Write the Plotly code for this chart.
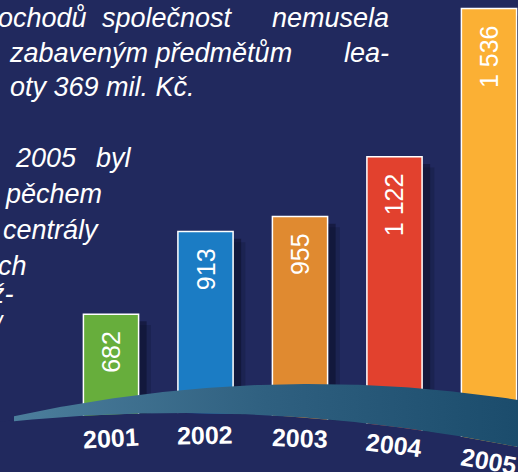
import numpy as np
import plotly.graph_objects as go

# data
years = ["2001", "2002", "2003", "2004", "2005"]
values = [682, 913, 955, 1122, 1536]
bar_colors = ["#67AE3C", "#1B7CC4", "#E08A30", "#E2412E", "#FBB034"]
year_angles = [-3, -1, 2, 7, 10]
year_label_y = [438, 435, 438, 445, 461]

# paragraph fragments (text, x px, baseline px, anchor)
para_text = [
    ("ochodů", -4, 27, "left"), ("společnost", 100, 27, "left"), ("nemusela", 391, 27, "right"),
    ("zabaveným předmětům", 7, 62, "left"), ("lea-", 391, 62, "right"),
    ("oty 369 mil. Kč.", 197, 96, "right"),
    ("2005", 13, 167, "left"), ("byl", 94, 167, "left"),
    ("pěchem", 104, 203, "right"), ("centrály", 101, 239, "right"),
    ("ch", 29, 275, "right"), ("ž-", 16, 303, "right"), ("/", 6, 335, "right"),
]

W, H = 518, 472
BG = "#21295E"
BAR_W = 0.584
X_RANGE = [-1.1746, 4.3069]

fig = go.Figure()

# soft drop shadows right of the bars
for dx, dy, alpha in ((0.13, 30, 0.22), (0.085, 20, 0.45)):
    fig.add_trace(go.Bar(
        x=years, y=[v - dy for v in values], width=BAR_W, offset=-BAR_W / 2 + dx,
        marker=dict(color=f"rgba(8,12,36,{alpha})", line=dict(width=0)),
        hoverinfo="skip",
    ))

fig.add_trace(go.Bar(
    x=years, y=values, width=BAR_W, offset=-BAR_W / 2,
    marker=dict(color=bar_colors, line=dict(color="white", width=1.5)),
    texttemplate="%{y:,}\u00a0\u00a0", textposition="inside", insidetextanchor="end",
    textangle=-90, insidetextfont=dict(family="Liberation Sans", size=25, color="white"),
    hoverinfo="skip",
))

# curved band across the bar bases (pixel coordinates on overlay axes)
xs = np.linspace(14, W, 140)
upper = 384 + 3.68e-4 * (xs - 310) ** 2
lower = 413 + 2.98e-4 * (xs - 180) ** 2

fig.add_trace(go.Scatter(
    x=np.concatenate([[0], xs, [W, W, 0]]),
    y=np.concatenate([[lower[0]], lower, [H + 2, H + 2, H + 2]]),
    xaxis="x2", yaxis="y2", mode="lines", line=dict(width=0),
    fill="toself", fillcolor=BG, hoverinfo="skip",
))
fig.add_trace(go.Scatter(
    x=np.concatenate([xs, xs[::-1]]), y=np.concatenate([upper, lower[::-1]]),
    xaxis="x2", yaxis="y2", mode="lines", line=dict(width=0), fill="toself",
    fillgradient=dict(type="horizontal", colorscale=[[0, "#4C7E9C"], [0.5, "#2F6080"], [1, "#1B4C6C"]]),
    hoverinfo="skip",
))

# year labels under the band, placed at each category's centre
span = X_RANGE[1] - X_RANGE[0]
for i, (yr, ang, yy) in enumerate(zip(years, year_angles, year_label_y)):
    fig.add_annotation(x=(i - X_RANGE[0]) / span, y=1 - yy / H, xref="paper", yref="paper",
                       text=yr, showarrow=False, textangle=ang, xanchor="center", yanchor="middle",
                       font=dict(family="Liberation Sans", size=25, color="white", weight="bold"))

for txt, x, base, anchor in para_text:
    fig.add_annotation(x=x / W, y=1 - (base - 9) / H, xref="paper", yref="paper", text=txt,
                       showarrow=False, xanchor=anchor, yanchor="middle",
                       font=dict(family="Liberation Sans", size=27, color="white", style="italic"))

fig.update_layout(
    width=W, height=H, margin=dict(l=0, r=0, t=0, b=0),
    paper_bgcolor=BG, plot_bgcolor=BG, showlegend=False,
    barmode="overlay", separators=", ",
    xaxis=dict(type="category", range=X_RANGE, visible=False, fixedrange=True),
    yaxis=dict(range=[241, 1560], visible=False, fixedrange=True),
    xaxis2=dict(overlaying="x", range=[0, W], visible=False, fixedrange=True),
    yaxis2=dict(overlaying="y", range=[H, 0], visible=False, fixedrange=True),
)

fig.write_html("out.html", config={"displayModeBar": False},
               post_script="document.body.style.margin='0';document.body.style.overflow='hidden';")
